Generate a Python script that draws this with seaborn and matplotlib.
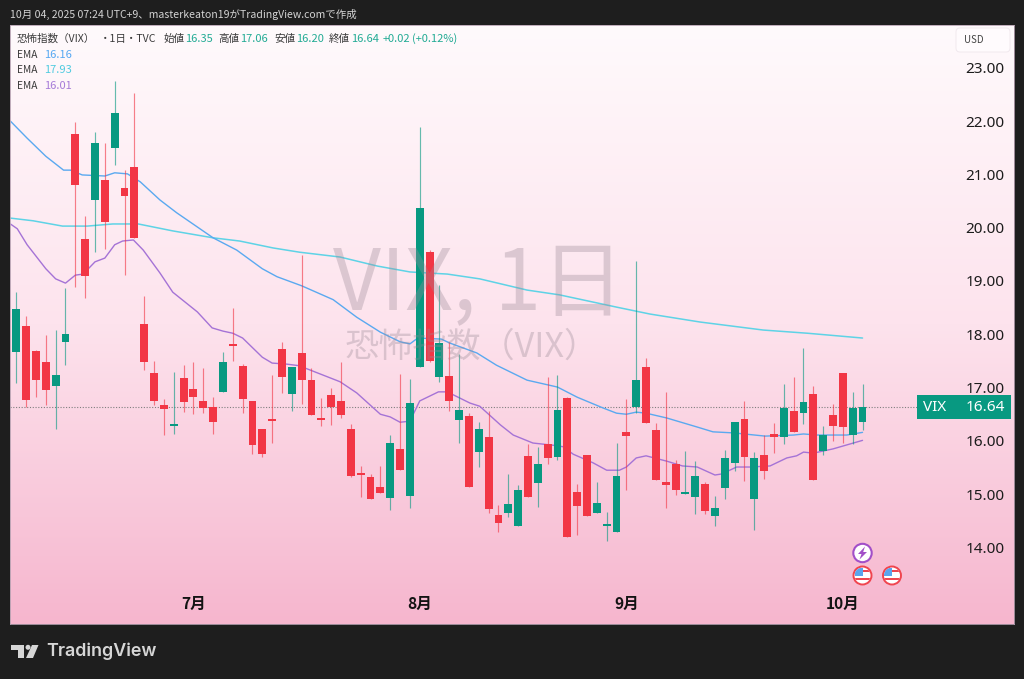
import numpy as np
import matplotlib
matplotlib.use("Agg")
import matplotlib.pyplot as plt
from matplotlib.patches import Circle, Rectangle, Polygon, FancyBboxPatch
from matplotlib.transforms import IdentityTransform
import seaborn as sns

highs = [18.79,18.34,17.71,17.99,18.08,18.87,21.98,20.22,21.79,21.59,22.75,21.08,22.53,18.72,17.50,16.79,17.29,17.42,17.48,17.37,16.82,17.67,18.49,17.44,16.75,16.22,17.24,17.86,17.39,19.49,17.37,16.80,16.99,17.48,16.32,15.53,15.38,15.53,16.11,17.25,17.16,21.89,19.58,18.92,17.86,17.63,16.52,16.35,16.56,14.80,15.38,15.17,15.94,15.89,17.20,17.24,16.82,15.19,15.74,15.23,14.67,15.96,16.79,19.37,17.55,16.34,16.92,15.64,15.81,15.62,15.23,14.97,15.83,16.35,16.75,15.79,16.11,16.34,17.07,17.20,17.74,17.03,16.28,16.69,17.27,16.92,17.06]
lows = [17.09,16.64,16.82,16.67,16.22,17.42,18.89,18.68,19.54,19.60,21.18,19.11,19.81,17.33,16.67,16.11,16.13,16.54,16.50,16.52,16.13,16.92,17.50,16.52,15.75,15.70,15.96,16.90,16.56,16.69,16.49,16.28,16.30,16.43,15.32,14.95,14.91,15.02,14.70,15.45,14.74,17.39,17.48,17.10,16.56,15.96,15.13,15.51,14.65,14.29,14.57,14.40,14.95,14.76,15.57,15.64,14.20,14.23,14.59,14.65,14.12,14.29,15.08,16.52,16.34,15.27,14.74,14.98,15.00,14.63,14.63,14.40,14.91,15.44,15.25,14.33,15.29,15.77,15.94,16.17,16.32,15.27,15.74,16.00,15.96,15.94,16.20]
opens = [17.67,18.16,17.69,17.48,17.03,17.86,21.76,19.79,20.52,20.89,21.49,20.74,21.14,18.19,17.27,16.67,16.28,17.18,16.97,16.75,16.64,16.92,17.82,17.41,16.75,16.22,16.41,17.72,16.88,17.65,17.14,16.43,16.86,16.75,16.22,15.38,15.32,15.13,14.93,15.85,14.97,17.39,19.54,17.20,17.22,16.39,16.47,15.79,16.07,14.61,14.65,14.40,15.72,15.21,15.94,15.70,16.80,15.04,15.74,14.65,14.40,14.29,16.17,16.64,17.39,16.20,15.23,15.57,15.00,14.95,15.19,14.59,15.12,15.59,16.41,14.91,15.74,16.13,16.07,16.56,16.52,16.88,15.81,16.49,17.27,16.11,16.35]
closes = [18.47,16.77,17.14,16.95,17.24,18.01,20.80,19.09,21.59,20.11,22.15,20.59,19.81,17.48,16.75,16.60,16.32,16.73,16.82,16.62,16.35,17.48,17.78,16.79,15.92,15.75,16.37,17.20,17.39,17.14,16.49,16.39,16.64,16.49,15.34,15.36,14.91,15.02,15.96,15.45,16.71,20.37,17.50,17.84,16.75,16.58,15.13,16.22,14.72,14.46,14.82,15.08,14.95,15.57,15.68,16.58,14.20,14.78,14.59,14.83,14.42,15.34,16.09,17.14,16.34,15.27,15.17,15.08,15.02,15.34,14.68,14.74,15.68,16.35,15.70,15.68,15.44,16.07,16.62,16.17,16.73,15.27,16.11,16.28,16.26,16.62,16.64]

ema_blue_idx = [-0.6,1.1,3,4.8,5.5,6.7,9,10,11.3,12.6,14.6,16.3,20,22.4,25,26.5,29,32.2,34.6,37,39,40,40.8,43.2,44,46.8,48.8,51.9,55,57,59.6,61,62,63,64,66.1,69.2,70.8,72.9,76.1,79,80,81.4,84.4,86]
ema_blue = [22.00,21.68,21.34,21.08,21.08,20.99,20.97,21.03,21.01,20.86,20.52,20.28,19.81,19.58,19.23,19.08,18.91,18.65,18.32,18.04,17.86,17.82,17.93,17.91,17.84,17.65,17.42,17.14,17.01,16.82,16.62,16.52,16.50,16.54,16.52,16.43,16.26,16.17,16.15,16.09,16.11,16.13,16.11,16.11,16.16]
ema_cyan_idx = [-0.6,1.7,4.7,7.2,9.8,12.4,15.9,20,22.7,26.1,28.8,32.9,36.7,40,43.8,47.1,51.9,55.2,61,64.4,69.5,75.9,80.4,86]
ema_cyan = [20.18,20.13,20.03,20.03,20.07,20.07,19.94,19.81,19.75,19.62,19.54,19.45,19.28,19.17,19.13,19.04,18.83,18.74,18.51,18.38,18.23,18.08,18.02,17.93]
ema_purple_idx = [-0.6,0.1,1.1,3,4,5,6,6.8,8,9,10,10.8,11.9,12.9,14.6,15.9,18.4,19.9,21,22,23,25,26,27.5,28.8,29.3,32.9,34.6,37,38,39,40,41,42.9,43.8,46.1,47.1,49.2,50.5,52.5,54.5,55.6,56.6,58.6,60,61.3,62,63,64,66.1,67.7,69.2,71,71.7,73.2,74.6,76.6,78.3,79.3,80,81,83,86]
ema_purple = [20.07,19.98,19.68,19.23,19.04,18.96,19.11,19.13,19.36,19.43,19.68,19.75,19.77,19.58,19.15,18.79,18.42,18.12,18.06,18.02,17.93,17.57,17.46,17.44,17.41,17.37,17.11,16.90,16.50,16.45,16.35,16.37,16.75,16.92,16.92,16.71,16.65,16.30,16.11,15.96,15.92,15.89,15.75,15.59,15.45,15.45,15.51,15.68,15.72,15.62,15.53,15.51,15.36,15.38,15.51,15.51,15.53,15.68,15.72,15.79,15.77,15.85,16.01]

month_idx = [18, 41, 62, 84]
month_labels = ["7月", "8月", "9月", "10月"]
price_ticks = [14, 15, 16, 17, 18, 19, 20, 21, 22, 23]
last_price = 16.64

RED, GREEN = "#f23645", "#089981"
DARK = "#1e1e1e"
W, H = 1024, 679
sns.set_theme(style="white")
plt.rcParams["font.family"] = ["Noto Sans CJK JP", "DejaVu Sans"]

fig = plt.figure(figsize=(W / 100, H / 100), dpi=100, facecolor=DARK)
L, R, T, B = 10, 1014, 25, 624
ax = fig.add_axes([L / W, 1 - B / H, (R - L) / W, (B - T) / H])
px = 9.84
xl0 = (L - 16.3) / px
xl1 = (R - 16.3) / px
yscale = 53.3
yl0 = 14 - (B - 547.5) / yscale
yl1 = 14 + (547.5 - T) / yscale

# background gradient
cmap = sns.blend_palette(["#fffafc", "#fde3ed", "#f6b6ce"], as_cmap=True)
ax.imshow(np.linspace(0, 1, 256).reshape(-1, 1), cmap=cmap, aspect="auto",
          extent=[xl0, xl1, yl0, yl1], origin="upper", zorder=0)

# watermark
wm = "#9a8a96"
fig.text(479 / W, 1 - 286 / H, "VIX, 1日", color=wm, alpha=0.34, fontsize=60,
         ha="center", va="center", zorder=1)
fig.text(472 / W, 1 - 347 / H, "恐怖指数（VIX）", color=wm, alpha=0.34, fontsize=24.6,
         ha="center", va="center", zorder=1)

x = np.arange(len(opens))
# last price line
ax.axhline(last_price, color="#7f7f7f", lw=0.8, ls=(0, (1, 1.5)), zorder=1.5,
           xmax=(917 - L) / (R - L))

for xs, ys, c, lw in [(ema_cyan_idx, ema_cyan, "#5ed3e6", 1.1),
                      (ema_blue_idx, ema_blue, "#5aa9f0", 1.0),
                      (ema_purple_idx, ema_purple, "#a573d6", 1.0)]:
    sns.lineplot(x=xs, y=ys, color=c, lw=lw, ax=ax, zorder=2, sort=False, errorbar=None)

o, c_, h, l = map(np.array, (opens, closes, highs, lows))
colors = [GREEN if a > b else RED for a, b in zip(c_, o)]
ax.vlines(x, l, h, colors=colors, lw=0.85, alpha=0.62, zorder=3)
bottom = np.minimum(o, c_)
height = np.maximum(np.abs(c_ - o), 0.04)
ax.bar(x, height, bottom=bottom, width=0.8, color=colors, lw=0, zorder=4)

ax.set_xlim(xl0, xl1)
ax.set_ylim(yl0, yl1)
ax.set_xticks(month_idx)
ax.set_xticklabels(month_labels, fontsize=11.2, color="#131313", fontweight="bold")
ax.yaxis.tick_right()
ax.set_yticks(price_ticks)
ax.set_yticklabels([f"{v:.2f}" for v in price_ticks], fontsize=11, color="#1c1c1c",
                   family=["Noto Sans"])
ax.tick_params(axis="x", length=0, pad=-20)
ax.tick_params(axis="y", length=0, pad=-35)
ax.grid(False)
for s in ax.spines.values():
    s.set_color("#b5a0b0")
    s.set_linewidth(0.6)


def ptext(xp, yp, s, color="#333333", size=7.2, **kw):
    kw.setdefault("va", "center")
    return fig.text(xp / W, 1 - yp / H, s, color=color, fontsize=size, zorder=10, **kw)


def pix_patch(p):
    p.set_transform(IdentityTransform())
    p.set_zorder(9)
    fig.add_artist(p)


def P(xp, yp):
    return (xp, H - yp)


# header
ptext(10, 14, "10月 04, 2025 07:24 UTC+9、masterkeaton19がTradingView.comで作成",
      color="#d4d4d4", size=7.55)

# legend
lg = "#3a3a3a"
val = "#22ab94"
for xp, s, col, sz in [(17, "恐怖指数（VIX）", lg, 7.6), (100, "・1日・TVC", lg, 7.6),
                       (163, "始値", lg, 7.6), (185, "16.35", val, 8), (218, "高値", lg, 7.6),
                       (240, "17.06", val, 8), (274, "安値", lg, 7.6), (296, "16.20", val, 8),
                       (329, "終値", lg, 7.6), (351, "16.64", val, 8), (383, "+0.02", val, 8),
                       (412, "(+0.12%)", val, 8)]:
    ptext(xp, 39, s, color=col, size=sz)
for yp, v, col in [(55, "16.16", "#56a8f2"), (70, "17.93", "#4fcbe0"), (86, "16.01", "#a67bd8")]:
    ptext(17, yp, "EMA", color=lg, size=7.3)
    ptext(44, yp, v, color=col, size=8)

# USD box
pix_patch(FancyBboxPatch(P(959, 49), 48, 18, boxstyle="round,pad=3,rounding_size=4",
                         fc="#fffbfd", ec="#f1e9ee", lw=0.7))
ptext(964, 40, "USD", color="#444444", size=7)

# price tag
pix_patch(Rectangle(P(917, 419), 94, 24, fc=GREEN, ec="none"))
pix_patch(Rectangle(P(952.6, 419), 0.8, 24, fc="#bfe3da", ec="none"))
ptext(935, 407.5, "VIX", color="white", size=11, ha="center", family=["Noto Sans"])
ptext(1005, 407.5, "16.64", color="white", size=11, ha="right", family=["Noto Sans"])


# event markers
def flag(cx, cy):
    ring = Circle(P(cx, cy), 9, fc="#ffffff", ec="#f0454f", lw=1.4)
    pix_patch(ring)
    clip = Circle(P(cx, cy), 8, transform=IdentityTransform())
    for p in (Rectangle(P(cx - 8, cy + 0.5), 8, 8, fc="#5aa5ee", ec="none"),
              Rectangle(P(cx, cy - 3.5), 8, 2.4, fc="#ef4650", ec="none"),
              Rectangle(P(cx - 8, cy + 4.2), 16, 2.2, fc="#ef4650", ec="none")):
        pix_patch(p)
        p.set_clip_path(clip)


pix_patch(Circle(P(862.5, 553), 9.2, fc="#ffffff", ec="#a24fc8", lw=1.5))
pix_patch(Polygon([P(865, 546.5), P(858, 554), P(861.5, 554), P(859.5, 559.5),
                   P(867, 552), P(863.2, 552)], closed=True, fc="#a24fc8", ec="none"))
flag(862.5, 575.5)
flag(892, 575.5)

# footer logo
logo = "#d6d6d6"
pix_patch(Polygon([P(11, 645), P(24, 645), P(24, 658), P(17.5, 658), P(17.5, 650), P(11, 650)],
                  closed=True, fc=logo, ec="none"))
pix_patch(Circle(P(28, 647.3), 2.5, fc=logo, ec="none"))
pix_patch(Polygon([P(32, 645), P(38.5, 645), P(33, 658), P(26, 658)], closed=True, fc=logo, ec="none"))
ptext(46, 651.5, "TradingView", color=logo, size=12.9, family=["Inter"], fontweight="semibold")

fig.savefig("out.png", dpi=100, facecolor=DARK)
